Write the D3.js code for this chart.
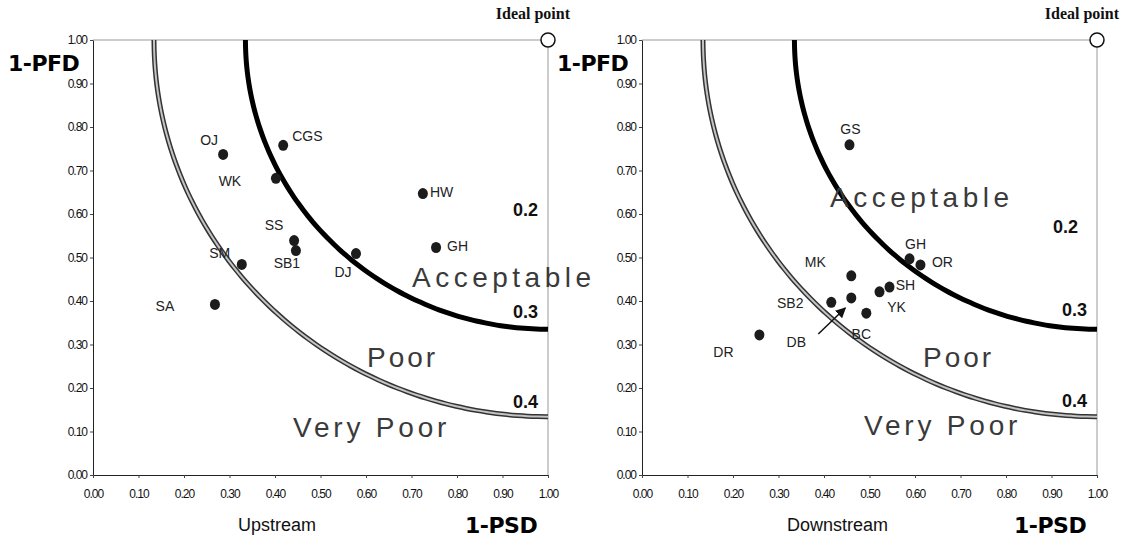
<!DOCTYPE html>
<html>
<head>
<meta charset="utf-8">
<script src="https://cdn.jsdelivr.net/npm/d3@7"></script>
<style>
  body { margin: 0; background: #fff; }
  svg { display: block; }
</style>
</head>
<body>
<svg id="chart" width="1128" height="541"></svg>
<script>
// axis ticks (both axes, both panels)
const tickValues = [0, 0.1, 0.2, 0.3, 0.4, 0.5, 0.6, 0.7, 0.8, 0.9, 1.0];

// upstream sites: x = 1-PSD, y = 1-PFD
const upSites = ["OJ", "CGS", "WK", "HW", "GH", "SS", "SB1", "DJ", "SM", "SA"];
const upPSD   = [0.286, 0.418, 0.402, 0.725, 0.754, 0.442, 0.446, 0.578, 0.327, 0.268];
const upPFD   = [0.737, 0.758, 0.682, 0.647, 0.523, 0.539, 0.516, 0.509, 0.484, 0.392];

// downstream sites
const downSites = ["GS", "GH", "OR", "MK", "SH", "YK", "DB", "SB2", "BC", "DR"];
const downPSD   = [0.456, 0.588, 0.612, 0.460, 0.544, 0.522, 0.460, 0.416, 0.493, 0.258];
const downPFD   = [0.759, 0.497, 0.483, 0.458, 0.432, 0.421, 0.407, 0.397, 0.372, 0.322];

// distance from the ideal point (1,1) for the two boundary curves
const boundaryRadius = [0.665, 0.866];
const boundaryLabels = ["0.2", "0.3", "0.4"];
const regionNames = ["Acceptable", "Poor", "Very Poor"];

// label placement, pixel offsets from each point
const upLabelPos = {
  OJ: [-14, -14, "middle"], CGS: [9, -9, "start"], WK: [-46, 3, "middle"],
  HW: [7, -1, "start"], GH: [11, -1, "start"], SS: [-20, -15, "middle"],
  SB1: [-9, 13, "middle"], DJ: [-13, 19, "middle"], SM: [-22, -11, "middle"],
  SA: [-50, 2, "middle"]
};
const downLabelPos = {
  GS: [1, -16, "middle"], GH: [6, -15, "middle"], OR: [22, -3, "middle"],
  MK: [-36, -14, "middle"], SH: [16, -2, "middle"], YK: [17, 15, "middle"],
  DB: [-55, 44, "middle"], SB2: [-41, 1, "middle"], BC: [-5, 21, "middle"],
  DR: [-36, 17, "middle"]
};

const W = 455, H = 435, TOP = 40;

const svg = d3.select("#chart");
svg.append("defs").append("marker")
  .attr("id", "arrow")
  .attr("viewBox", "0 0 10 10")
  .attr("refX", 9).attr("refY", 5)
  .attr("markerWidth", 7).attr("markerHeight", 7)
  .attr("orient", "auto")
  .append("path")
  .attr("d", "M0,0 L10,5 L0,10 z")
  .attr("fill", "#111");

function drawPanel(opt) {
  const g = svg.append("g").attr("transform", `translate(${opt.left},${TOP})`);
  const x = d3.scaleLinear().domain([0, 1]).range([0, W]);
  const y = d3.scaleLinear().domain([0, 1]).range([H, 0]);

  // top / right frame
  g.append("path")
    .attr("d", `M0,0 H${W} V${H}`)
    .attr("fill", "none")
    .attr("stroke", "#999")
    .attr("stroke-width", 1);

  const fmt = d3.format(".2f");
  const ya = g.append("g")
    .call(d3.axisLeft(y).tickValues(tickValues).tickFormat(fmt).tickSize(3).tickSizeOuter(0));
  const xa = g.append("g").attr("transform", `translate(0,${H})`)
    .call(d3.axisBottom(x).tickValues(tickValues).tickFormat(fmt).tickSize(3).tickSizeOuter(0));
  [ya, xa].forEach(a => {
    a.select(".domain").attr("stroke", "#222");
    a.selectAll(".tick line").attr("stroke", "#444");
    a.selectAll("text")
      .attr("font-family", "Liberation Sans, Arial, sans-serif")
      .attr("font-size", 12)
      .attr("letter-spacing", "-1px")
      .attr("fill", "#111");
  });
  ya.selectAll("text").attr("x", -6);
  xa.selectAll("text").attr("y", 14);

  // boundary curves: quarter circles round the ideal point
  const arc = r => d3.line()
    .x(t => x(1 - r * Math.cos(t)))
    .y(t => y(1 - r * Math.sin(t)))
    .curve(d3.curveBasis)(d3.range(0, Math.PI / 2 + 0.001, Math.PI / 120));

  g.append("path").attr("d", arc(boundaryRadius[0]))
    .attr("fill", "none").attr("stroke", "#000").attr("stroke-width", 5);
  g.append("path").attr("d", arc(boundaryRadius[1]))
    .attr("fill", "none").attr("stroke", "#333").attr("stroke-width", 5);
  g.append("path").attr("d", arc(boundaryRadius[1]))
    .attr("fill", "none").attr("stroke", "#c4c4c4").attr("stroke-width", 2);

  // region names
  regionNames.forEach((name, i) => {
    g.append("text")
      .attr("x", opt.region[i][0]).attr("y", opt.region[i][1])
      .attr("dy", "0.35em")
      .attr("font-family", "Liberation Sans, Arial, sans-serif")
      .attr("font-size", 28)
      .attr("letter-spacing", opt.spacing[i] + "px")
      .attr("fill", "#3a3a3a")
      .text(name);
  });

  // boundary values
  boundaryLabels.forEach((lab, i) => {
    g.append("text")
      .attr("x", opt.bound[i][0]).attr("y", opt.bound[i][1])
      .attr("dy", "0.35em")
      .attr("text-anchor", "end")
      .attr("font-family", "Liberation Sans, Arial, sans-serif")
      .attr("font-weight", "bold")
      .attr("font-size", 18)
      .attr("fill", "#111")
      .text(lab);
  });

  // sites
  const pts = opt.sites.map((s, i) => ({ s, px: opt.psd[i], pf: opt.pfd[i] }));
  g.selectAll(".dot").data(pts).join("ellipse")
    .attr("cx", d => x(d.px)).attr("cy", d => y(d.pf))
    .attr("rx", 5).attr("ry", 5.5)
    .attr("fill", "#1c1c1c");
  g.selectAll(".lab").data(pts).join("text")
    .attr("x", d => x(d.px) + opt.lab[d.s][0])
    .attr("y", d => y(d.pf) + opt.lab[d.s][1])
    .attr("dy", "0.35em")
    .attr("text-anchor", d => opt.lab[d.s][2])
    .attr("font-family", "Liberation Sans, Arial, sans-serif")
    .attr("font-size", 14)
    .attr("fill", "#222")
    .text(d => d.s);

  if (opt.arrowSite) {
    const d = pts.find(p => p.s === opt.arrowSite);
    g.append("line")
      .attr("x1", x(d.px) - 33).attr("y1", y(d.pf) + 36)
      .attr("x2", x(d.px) - 6).attr("y2", y(d.pf) + 10)
      .attr("stroke", "#111").attr("stroke-width", 1.5)
      .attr("marker-end", "url(#arrow)");
  }

  // ideal point
  g.append("circle").attr("cx", x(1)).attr("cy", y(1)).attr("r", 7)
    .attr("fill", "#fff").attr("stroke", "#111").attr("stroke-width", 1.5);
  g.append("text")
    .attr("x", x(1) + 22).attr("y", -21)
    .attr("text-anchor", "end")
    .attr("font-family", "Liberation Serif, Times New Roman, serif")
    .attr("font-weight", "bold")
    .attr("font-size", 16)
    .attr("fill", "#111")
    .text("Ideal point");

  // axis titles
  const heavy = "DejaVu Sans, sans-serif";
  g.append("text")
    .attr("x", opt.pfdX).attr("y", 23).attr("dy", "0.35em")
    .attr("font-family", heavy).attr("font-weight", "bold")
    .attr("font-size", 22).attr("letter-spacing", "-0.5px")
    .attr("fill", "#000").text("1-PFD");
  g.append("text")
    .attr("x", 372).attr("y", 485).attr("dy", "0.35em")
    .attr("font-family", heavy).attr("font-weight", "bold")
    .attr("font-size", 22).attr("letter-spacing", "-0.5px")
    .attr("fill", "#000").text("1-PSD");
  g.append("text")
    .attr("x", 145).attr("y", 485).attr("dy", "0.35em")
    .attr("font-family", "Liberation Sans, Arial, sans-serif")
    .attr("font-size", 18)
    .attr("fill", "#111").text(opt.title);
}

drawPanel({
  left: 93, title: "Upstream", sites: upSites, psd: upPSD, pfd: upPFD, lab: upLabelPos,
  region: [[319, 237], [274, 317], [200, 387]], spacing: [4.5, 3, 3.8],
  bound: [[445, 170], [445, 272], [445, 362]], pfdX: -85
});
drawPanel({
  left: 642, title: "Downstream", sites: downSites, psd: downPSD, pfd: downPFD, lab: downLabelPos,
  region: [[188, 157], [281, 317], [222, 385]], spacing: [4.5, 3, 3.8],
  bound: [[436, 187], [445, 270], [445, 361]], pfdX: -85, arrowSite: "DB"
});
</script>
</body>
</html>
